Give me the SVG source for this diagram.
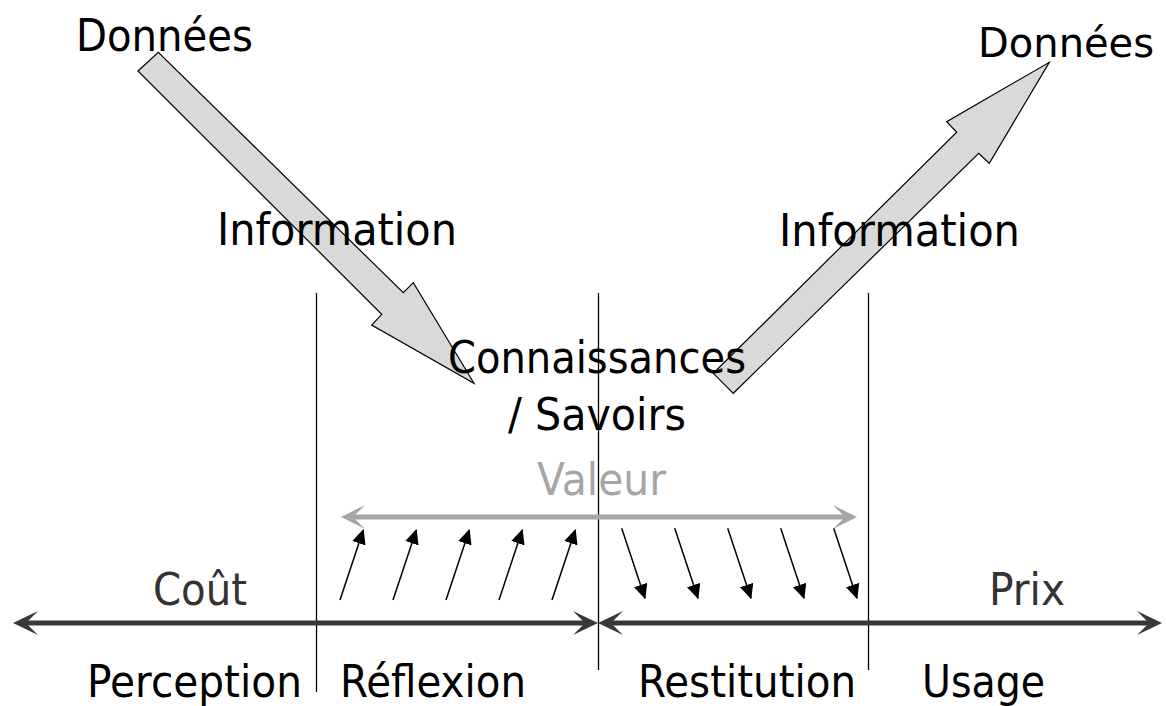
<svg xmlns="http://www.w3.org/2000/svg" width="1166" height="706" viewBox="0 0 1166 706">
  <style>
    .lbl { font-family: "DejaVu Sans", Verdana, sans-serif; font-size: 44px; fill: #000; }
    .small { font-size: 40px; }
    .grey { fill: #A6A6A6; }
    .dark { fill: #333333; }
    .big { fill: #D9D9D9; stroke: #000; stroke-width: 1.2; stroke-linejoin: miter; }
    .divider { stroke: #000; stroke-width: 1.3; fill: none; }
    .axis { stroke: #383838; stroke-width: 5; fill: none; }
    .value { stroke: #A6A6A6; stroke-width: 5; fill: none; }
    .flow { stroke: #000; stroke-width: 1.5; fill: none; }
  </style>
  <defs>
    <!-- notched heads; the reference point sits at the notch so the shaft ends inside the head -->
    <marker id="headDark" markerUnits="userSpaceOnUse" markerWidth="26" markerHeight="24" viewBox="0 0 26 24" refX="12" refY="12" orient="auto-start-reverse">
      <path d="M0,0 L25,12 L0,24 L12,12 Z" fill="#383838"/>
    </marker>
    <marker id="headGrey" markerUnits="userSpaceOnUse" markerWidth="26" markerHeight="24" viewBox="0 0 26 24" refX="12" refY="12" orient="auto-start-reverse">
      <path d="M0,0 L24,12 L0,24 L12,12 Z" fill="#A6A6A6"/>
    </marker>
    <marker id="headSmall" markerUnits="userSpaceOnUse" markerWidth="16" markerHeight="14" viewBox="0 0 16 14" refX="14" refY="7" orient="auto">
      <path d="M0,0 L15,7 L0,14 Z" fill="#000"/>
    </marker>
  </defs>

  <!-- phase dividers -->
  <g id="dividers">
    <line class="divider" x1="316.5" y1="293" x2="316.5" y2="692"/>
    <line class="divider" x1="598.5" y1="293" x2="598.5" y2="670"/>
    <line class="divider" x1="868.5" y1="293" x2="868.5" y2="670"/>
  </g>

  <!-- broad arrows: data in, data out -->
  <g id="arrow-in">
    <polygon class="big" points="138,71 158.3,52.3 403.3,292.7 413.3,282.7 474,383.3 371.7,325 381.7,314.3"/>
  </g>
  <g id="arrow-out">
    <polygon class="big" points="713.3,373.3 956.7,132.3 946.7,121.7 1049.3,62.3 989.3,163.3 978.7,153.3 733.3,393.3"/>
  </g>

  <g id="connectors">
    <!-- cost / price axis -->
    <line class="axis" x1="26" y1="623" x2="585" y2="623" marker-start="url(#headDark)" marker-end="url(#headDark)"/>
    <line class="axis" x1="611" y1="623" x2="1149" y2="623" marker-start="url(#headDark)" marker-end="url(#headDark)"/>
    <!-- value axis -->
    <line class="value" x1="353" y1="517" x2="845" y2="517" marker-start="url(#headGrey)" marker-end="url(#headGrey)"/>
    <!-- rising arrows -->
    <line class="flow" x1="340" y1="600" x2="363.3" y2="530" marker-end="url(#headSmall)"/>
    <line class="flow" x1="393" y1="600" x2="416.3" y2="530" marker-end="url(#headSmall)"/>
    <line class="flow" x1="446" y1="600" x2="469.3" y2="530" marker-end="url(#headSmall)"/>
    <line class="flow" x1="499" y1="600" x2="522.3" y2="530" marker-end="url(#headSmall)"/>
    <line class="flow" x1="552" y1="600" x2="575.3" y2="530" marker-end="url(#headSmall)"/>
    <!-- falling arrows -->
    <line class="flow" x1="621.7" y1="528.3" x2="645" y2="598.3" marker-end="url(#headSmall)"/>
    <line class="flow" x1="674.7" y1="528.3" x2="698" y2="598.3" marker-end="url(#headSmall)"/>
    <line class="flow" x1="727.7" y1="528.3" x2="751" y2="598.3" marker-end="url(#headSmall)"/>
    <line class="flow" x1="780.7" y1="528.3" x2="804" y2="598.3" marker-end="url(#headSmall)"/>
    <line class="flow" x1="833.7" y1="528.3" x2="857" y2="598.3" marker-end="url(#headSmall)"/>
  </g>

  <g id="donnees-in"><text class="lbl" x="76" y="51" textLength="177" lengthAdjust="spacingAndGlyphs">Données</text></g>
  <g id="donnees-out"><text class="lbl small" x="978" y="57">Données</text></g>
  <g id="information-in"><text class="lbl" x="217" y="245" textLength="240" lengthAdjust="spacingAndGlyphs">Information</text></g>
  <g id="information-out"><text class="lbl" x="779" y="246" textLength="241" lengthAdjust="spacingAndGlyphs">Information</text></g>
  <g id="connaissances">
    <text class="lbl" x="448" y="373" textLength="298" lengthAdjust="spacingAndGlyphs">Connaissances</text>
    <text class="lbl" x="508" y="430" textLength="178" lengthAdjust="spacingAndGlyphs">/ Savoirs</text>
  </g>
  <g id="valeur"><text class="lbl grey" x="537" y="495" textLength="129" lengthAdjust="spacingAndGlyphs">Valeur</text></g>
  <g id="cout"><text class="lbl dark" x="153" y="605" textLength="94" lengthAdjust="spacingAndGlyphs">Coût</text></g>
  <g id="prix"><text class="lbl dark" x="989" y="605" textLength="76" lengthAdjust="spacingAndGlyphs">Prix</text></g>
  <g id="perception"><text class="lbl" x="87" y="697" textLength="215" lengthAdjust="spacingAndGlyphs">Perception</text></g>
  <g id="reflexion"><text class="lbl" x="340" y="697" textLength="186" lengthAdjust="spacingAndGlyphs">Réflexion</text></g>
  <g id="restitution"><text class="lbl" x="638" y="697" textLength="218" lengthAdjust="spacingAndGlyphs">Restitution</text></g>
  <g id="usage"><text class="lbl" x="922" y="697" textLength="123" lengthAdjust="spacingAndGlyphs">Usage</text></g>
</svg>
